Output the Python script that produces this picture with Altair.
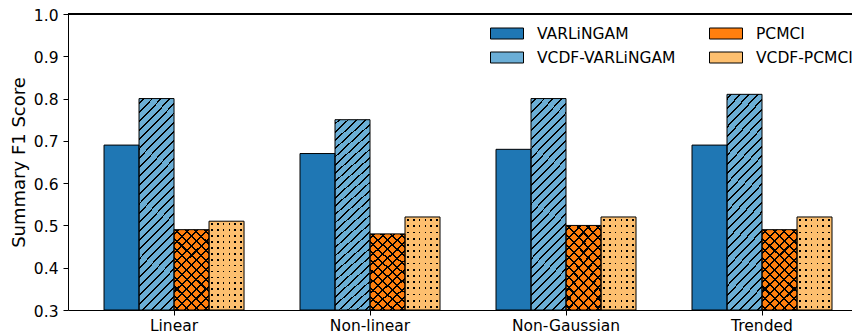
import altair as alt
import pandas as pd

# ---- data ----
categories = ["Linear", "Non-linear", "Non-Gaussian", "Trended"]
series = ["VARLiNGAM", "VCDF-VARLiNGAM", "PCMCI", "VCDF-PCMCI"]
varlingam = [0.69, 0.67, 0.68, 0.69]
vcdf_varlingam = [0.80, 0.75, 0.80, 0.81]
pcmci = [0.49, 0.48, 0.50, 0.49]
vcdf_pcmci = [0.51, 0.52, 0.52, 0.52]
y_ticks = [0.3, 0.4, 0.5, 0.6, 0.7, 0.8, 0.9, 1.0]
series_colors = ["#1f77b4", "#6baed6", "#ff7f0e", "#fdbf6f"]

values = {"VARLiNGAM": varlingam, "VCDF-VARLiNGAM": vcdf_varlingam,
          "PCMCI": pcmci, "VCDF-PCMCI": vcdf_pcmci}
rows = []
for s in series:
    for c, v in zip(categories, values[s]):
        rows.append({"category": c, "series": s, "value": v})
df = pd.DataFrame(rows)

FONT = "DejaVu Sans"
FS = 15.5
CLEAR = "rgba(0,0,0,0)"


def stripes(n, frac, bg, fg, phase=0.5):
    stops = [alt.GradientStop(color=bg, offset=0)]
    for i in range(n):
        c = (i + phase) / n
        lo = round(max(0.0, c - frac / 2), 5)
        hi = round(min(1.0, c + frac / 2), 5)
        stops += [alt.GradientStop(color=bg, offset=lo),
                  alt.GradientStop(color=fg, offset=lo),
                  alt.GradientStop(color=fg, offset=hi),
                  alt.GradientStop(color=bg, offset=hi)]
    stops.append(alt.GradientStop(color=bg, offset=1))
    return stops


def grad(stops, x1, y1, x2, y2):
    return alt.LinearGradient(gradient="linear", stops=stops,
                              x1=x1, y1=y1, x2=x2, y2=y2)


# hatch styles (drawn over the solid bars)
slash_tall = grad(stripes(27, 0.008, CLEAR, "black"), 0, 0, 0.194, 1.138)
cross_a = grad(stripes(12, 0.018, CLEAR, "black"), 0, 0, 0.521, 1.207)
cross_b = grad(stripes(12, 0.018, CLEAR, "black"), 0, 1, 0.521, -0.207)
dot_rows = grad(stripes(15, 0.02, CLEAR, "black"), 0, 0, 0, 1)
dot_cols = grad(stripes(6, 0.05, "#fdbf6f", CLEAR), 0, 0, 1, 0)

base = alt.Chart(df).encode(
    x=alt.X("category:N", sort=categories,
            scale=alt.Scale(paddingInner=0.2857, paddingOuter=0.1429, align=0.643),
            axis=alt.Axis(title=None, labelAngle=0, labelPadding=3)),
    xOffset=alt.XOffset("series:N", sort=series,
                        scale=alt.Scale(domain=series, paddingInner=0, paddingOuter=0)),
    y=alt.Y("value:Q", stack=None,
            scale=alt.Scale(domain=[0.3, 1.0], nice=False, zero=False),
            axis=alt.Axis(title="Summary F1 Score", values=y_ticks, format=".1f",
                          titleFontSize=18, titleFontWeight="normal",
                          titlePadding=5, labelPadding=5, labelOffset=1)),
    y2=alt.datum(0.3),
)

bars = base.mark_bar().encode(
    fill=alt.Fill("series:N",
                  scale=alt.Scale(domain=series, range=series_colors),
                  legend=alt.Legend(title=None, orient="none", legendX=422, legendY=8,
                                    columns=2, columnPadding=31, rowPadding=4,
                                    symbolType="M-1,-0.5H2V0.5H-1Z", symbolSize=484,
                                    symbolStrokeColor="black", symbolStrokeWidth=1,
                                    labelOffset=24, labelFontSize=FS, labelFont=FONT,
                                    labelColor="black")),
)

h_slash = base.transform_filter(alt.datum.series == "VCDF-VARLiNGAM").mark_bar(fill=slash_tall)
h_cross_a = base.transform_filter(alt.datum.series == "PCMCI").mark_bar(fill=cross_a)
h_cross_b = base.transform_filter(alt.datum.series == "PCMCI").mark_bar(fill=cross_b)
h_dot_rows = base.transform_filter(alt.datum.series == "VCDF-PCMCI").mark_bar(fill=dot_rows)
h_dot_cols = base.transform_filter(alt.datum.series == "VCDF-PCMCI").mark_bar(fill=dot_cols)

outline = base.mark_bar(fillOpacity=0, stroke="black", strokeWidth=1)

top_spine = alt.Chart(df).mark_rule(color="black", strokeWidth=1).encode(y=alt.datum(1.0))

chart = alt.layer(
    bars, h_slash, h_cross_a, h_cross_b, h_dot_rows, h_dot_cols, outline, top_spine
).properties(
    width=784, height=296,
    autosize=alt.AutoSizeParams(type="none"),
    padding={"left": 60, "top": 6, "right": 0, "bottom": 24},
).configure_view(
    stroke=None
).configure_axis(
    labelFont=FONT, labelFontSize=FS, labelColor="black",
    titleFont=FONT, titleColor="black",
    tickColor="black", tickSize=5, tickWidth=1,
    domainColor="black", domainWidth=1, grid=False,
)

chart.save("out.html", embed_options={"renderer": "svg", "actions": False})
